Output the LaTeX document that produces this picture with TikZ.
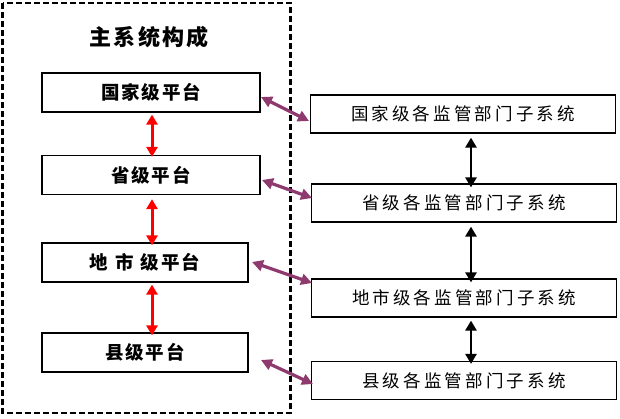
\documentclass[tikz,border=0pt]{standalone}
\usepackage{fontspec}
\newfontfamily\cjk{Noto Sans CJK SC}[LetterSpace=10]
\newfontfamily\cjkr{Noto Sans CJK SC}[LetterSpace=18]
\usetikzlibrary{arrows.meta}
\definecolor{purp}{HTML}{8E3A6E}
\tikzset{
  lbox/.style={draw, line width=1.2pt, minimum height=39pt, font=\cjk\bfseries\fontsize{18.5}{22}\selectfont, inner sep=0pt},
  rbox/.style={draw, line width=1.2pt, minimum height=38pt, minimum width=305pt, font=\cjkr\fontsize{17.5}{21}\selectfont, inner sep=0pt},
  redarr/.style={{Triangle[width=11pt,length=10pt]}-{Triangle[width=11pt,length=10pt]}, red, line width=3pt},
  blkarr/.style={{Triangle[width=11pt,length=10pt]}-{Triangle[width=11pt,length=10pt]}, black, line width=2.6pt},
  purarr/.style={{Triangle[width=11pt,length=11pt]}-{Triangle[width=11pt,length=11pt]}, purp, line width=3.2pt},
  frame/.style={draw, dash pattern=on 6pt off 3pt, line width=2.8pt}
}
\begin{document}
\begin{tikzpicture}[x=1pt,y=-1pt]
\useasboundingbox (0,0) rectangle (620,418);
\fill[white] (0,0) rectangle (620,418);
\draw[frame] (2.5,3) rectangle (290.5,413);
\node[font=\cjk\bfseries\fontsize{22}{26}\selectfont] (title) at (149,37) {主系统构成};
\node[lbox, minimum width=218pt] (l1) at (151,92.5) {国家级平台};
\node[lbox, minimum width=218pt] (l2) at (151,175) {省级平台};
\node[lbox, minimum width=206pt] (l3) at (145,262.5) {地\hspace{7pt}市\hspace{7pt}级平台};
\node[lbox, minimum width=206pt] (l4) at (145,352.5) {县级平台};
\node[rbox] (r1) at (463,114) {国家级各监管部门子系统};
\node[rbox] (r2) at (464,203) {省级各监管部门子系统};
\node[rbox] (r3) at (464,298) {地市级各监管部门子系统};
\node[rbox] (r4) at (464,380.5) {县级各监管部门子系统};
\draw[redarr] (l1.south -| 152,0) ++(0,2) -- ([yshift=-2pt]l2.north -| 152,0);
\draw[redarr] (l2.south -| 152,0) ++(0,4) -- ([yshift=-3pt]l3.north -| 152,0);
\draw[redarr] (l3.south -| 152,0) ++(0,2) -- ([yshift=-3pt]l4.north -| 152,0);
\draw[blkarr] (r1.south -| 471,0) ++(0,4) -- ([yshift=-4pt]r2.north -| 471,0);
\draw[blkarr] (r2.south -| 471,0) ++(0,4) -- ([yshift=-4pt]r3.north -| 471,0);
\draw[blkarr] (r3.south -| 471,0) ++(0,3) -- ([yshift=-3pt]r4.north -| 471,0);
\coordinate (a1) at (261,97);
\coordinate (b1) at (309,121);
\coordinate (a2) at (262,180);
\coordinate (b2) at (312,198);
\coordinate (a3) at (252,262);
\coordinate (b3) at (312,283);
\coordinate (a4) at (261,360);
\coordinate (b4) at (313,384);
\draw[purarr] (a1) -- (b1);
\draw[purarr] (a2) -- (b2);
\draw[purarr] (a3) -- (b3);
\draw[purarr] (a4) -- (b4);
\end{tikzpicture}
\end{document}
